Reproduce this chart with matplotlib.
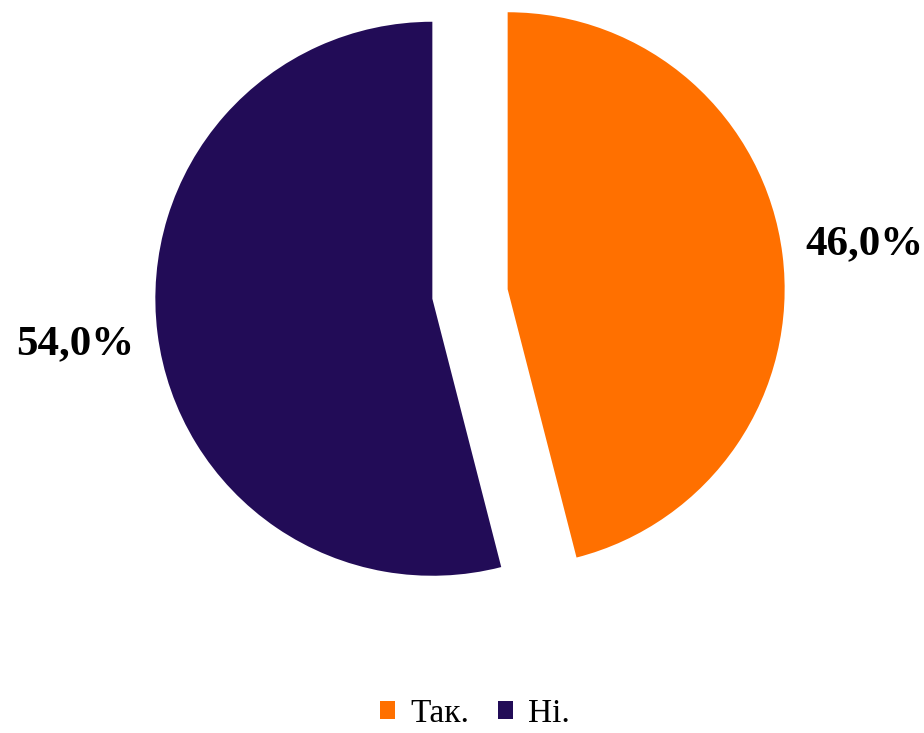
import matplotlib.pyplot as plt

# Data
labels = ['Так.', 'Ні.']
values = [46.0, 54.0]
colors = ['#FF7000', '#220C57']

plt.rcParams['font.family'] = ['Liberation Serif', 'DejaVu Serif']

fig = plt.figure(figsize=(9.24, 7.33), dpi=100)
ax = fig.add_axes([0, 0, 1, 1])

wedges, texts, autotexts = ax.pie(
    values, colors=colors, startangle=90, counterclock=False,
    explode=[0.137, 0.137], radius=1.0,
    autopct=lambda p: f'{p:.1f}%'.replace('.', ','), pctdistance=1.3,
    textprops={'fontsize': 31, 'fontweight': 'bold', 'color': 'black'},
)

# scale: 277 px per unit, pie centre at pixel (470, 294)
px = 277.0
ax.set_xlim(-470 / px, (924 - 470) / px)
ax.set_ylim(-(733 - 294) / px, 294 / px)
ax.set_aspect('auto')
ax.axis('off')

leg = fig.legend(wedges, labels, loc='lower center', bbox_to_anchor=(0.514, -0.035),
                 ncol=2, frameon=False, fontsize=24,
                 handlelength=0.45, handleheight=0.45, handletextpad=0.45, columnspacing=0.85)
for t in leg.get_texts():
    t.set_fontfamily(['Liberation Serif', 'DejaVu Serif'])

plt.savefig('out.png', dpi=100)
